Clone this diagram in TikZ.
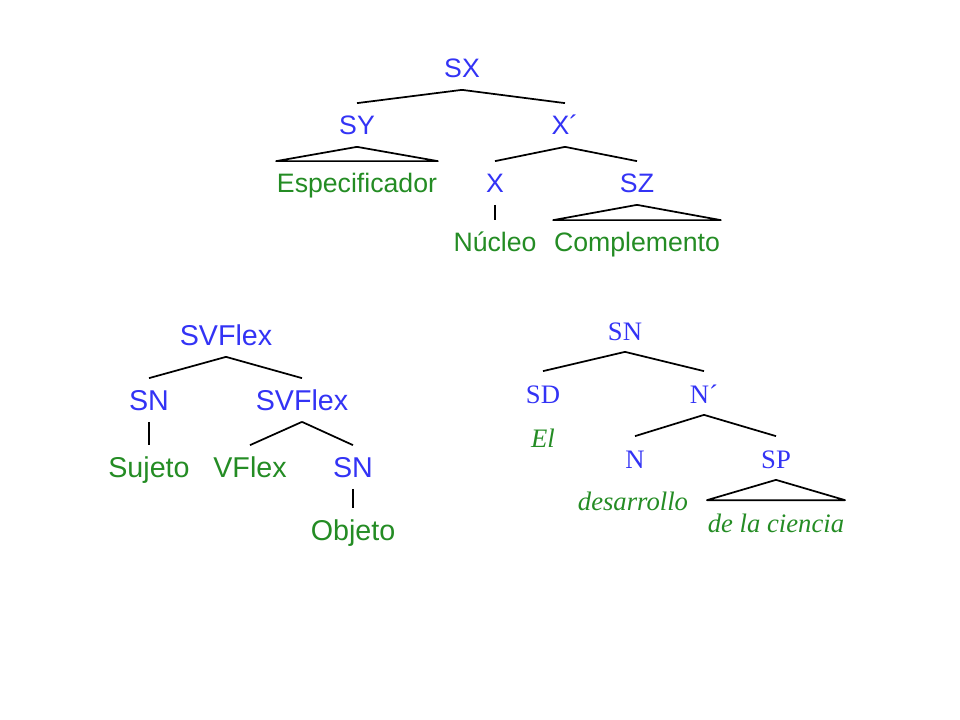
\documentclass[tikz,border=0pt]{standalone}
\usepackage{fontspec}
\setmainfont{Liberation Serif}
\setsansfont{Liberation Sans}
\usepackage{tikz}
\definecolor{catblue}{RGB}{51,51,245}
\definecolor{wordgreen}{RGB}{36,140,36}
\tikzset{
every node/.style={anchor=base,inner xsep=0pt,inner ysep=8.25pt,text height=15pt,text depth=0pt},
cat/.style={text=catblue,font=\sffamily\fontsize{20}{24}\selectfont},
word/.style={text=wordgreen,font=\sffamily\fontsize{20}{24}\selectfont},
bigcat/.style={text=catblue,font=\sffamily\fontsize{21.5}{26}\selectfont},
bigword/.style={text=wordgreen,font=\sffamily\fontsize{21.5}{26}\selectfont},
scat/.style={text=catblue,font=\rmfamily\fontsize{20}{24}\selectfont},
sword/.style={text=wordgreen,font=\rmfamily\itshape\fontsize{20}{24}\selectfont}
}
\begin{document}
\begin{tikzpicture}[x=0.75pt,y=-0.75pt,line width=1.3pt,line join=round]
\useasboundingbox (0,0) rectangle (960,720);

\node[cat] (SX) at (462,78) {SX};
\node[cat] (SY) at (357,135) {SY};
\node[cat] (Xb) at (565,135) {X´};
\node[word] (esp) at (357,193) {Especificador};
\node[cat] (X) at (495,193) {X};
\node[cat] (SZ) at (637,193) {SZ};
\node[word] (nuc) at (495,252) {Núcleo};
\node[word] (comp) at (637,252) {Complemento};

\path (SX.south) edge (SY.north)
                 edge (Xb.north)
      (Xb.south) edge (X.north)
                 edge (SZ.north)
      (X.south)  edge (nuc.north);
\draw (SY.south) -- (esp.north west) -- (esp.north east) -- cycle;
\draw (SZ.south) -- (comp.north west) -- (comp.north east) -- cycle;

\node[bigcat] (SV) at (226,345) {SVFlex};
\node[bigcat] (SN1) at (149,410) {SN};
\node[bigcat] (SV2) at (302,410) {SVFlex};
\node[bigword] (suj) at (149,477) {Sujeto};
\node[bigword] (vfl) at (250,477) {VFlex};
\node[bigcat] (SN2) at (353,477) {SN};
\node[bigword] (obj) at (353,540) {Objeto};

\path (SV.south)  edge (SN1.north)
                  edge (SV2.north)
      (SN1.south) edge (suj.north)
      (SV2.south) edge (vfl.north)
                  edge (SN2.north)
      (SN2.south) edge (obj.north);

\node[scat] (SN) at (625,340) {SN};
\node[scat] (SD) at (543,403) {SD};
\node[scat] (Nb) at (704,403) {N´};
\node[sword] (el) at (543,447) {El};
\node[scat] (N) at (635,468) {N};
\node[scat] (SP) at (776,468) {SP};
\node[sword] (des) at (633,510) {desarrollo};
\node[sword] (cien) at (776,532) {de la ciencia};

\path (SN.south) edge (SD.north)
                 edge (Nb.north)
      (Nb.south) edge (N.north)
                 edge (SP.north);
\draw (SP.south) -- (cien.north west) -- (cien.north east) -- cycle;
\end{tikzpicture}
\end{document}
